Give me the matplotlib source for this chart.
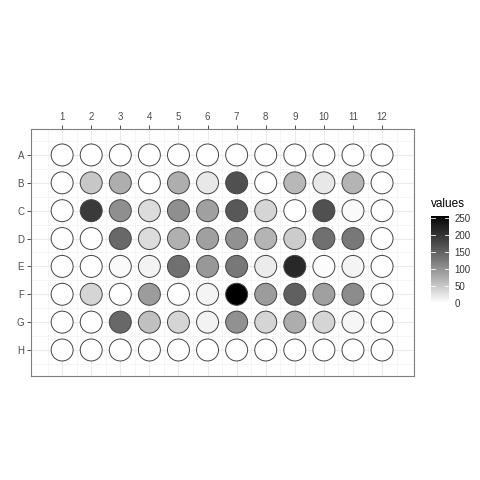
import matplotlib
matplotlib.use("Agg")
import matplotlib.pyplot as plt
import numpy as np
from matplotlib.colors import ListedColormap, Normalize
from matplotlib.colorbar import ColorbarBase

plt.rcParams['font.family'] = ['Liberation Sans', 'DejaVu Sans']

# plate layout
rows = ["A", "B", "C", "D", "E", "F", "G", "H"]
cols = list(range(1, 13))

# well values, one list per row
row_A = [0, 0, 0, 0, 0, 0, 0, 0, 0, 0, 0, 0]
row_B = [0, 50, 74, 0, 74, 20, 168, 0, 64, 20, 68, 0]
row_C = [0, 193, 104, 31, 104, 87, 160, 38, 0, 168, 4, 0]
row_D = [0, 0, 143, 31, 72, 87, 102, 68, 46, 135, 126, 0]
row_E = [0, 0, 4, 11, 135, 95, 126, 17, 214, 3, 10, 0]
row_F = [0, 38, 0, 91, 0, 10, 255, 91, 151, 87, 106, 0]
row_G = [0, 0, 143, 57, 38, 11, 102, 38, 75, 38, 8, 0]
row_H = [0, 0, 0, 0, 0, 0, 0, 0, 0, 0, 0, 0]
values = [row_A, row_B, row_C, row_D, row_E, row_F, row_G, row_H]

cbar_ticks = [0, 50, 100, 150, 200, 250]


# white -> black gradient interpolated in Lab lightness, like ggplot
def lab_gray(t):
    L = 100 * (1 - t)
    fy = (L + 16) / 116
    Y = np.where(fy ** 3 > 0.008856, fy ** 3, (L / 903.3))
    g = np.where(Y <= 0.0031308, 12.92 * Y, 1.055 * Y ** (1 / 2.4) - 0.055)
    return np.clip(g, 0, 1)


t = np.linspace(0, 1, 256)
g = lab_gray(t)
cmap = ListedColormap(np.column_stack([g, g, g]))

vals = np.array(values, dtype=float)
norm = Normalize(vmin=vals.min(), vmax=vals.max())

fig = plt.figure(figsize=(4.8, 4.8), dpi=100)
ax = fig.add_axes([0.0646, 0.2167, 0.798, 0.5146])

xx, yy = np.meshgrid(np.arange(1, 13), np.arange(1, 9))
ax.scatter(xx.ravel(), yy.ravel(), c=vals.ravel(), cmap=cmap, norm=norm,
           s=250, edgecolors="#444444", linewidths=0.7, zorder=3)

ax.set_xlim(-0.07, 13.1)
ax.set_ylim(8.933, 0.067)

ax.set_xticks(cols)
ax.set_xticklabels([str(c) for c in cols])
ax.set_yticks(range(1, 9))
ax.set_yticklabels(rows)
ax.set_xticks(np.arange(0.5, 13.5, 1), minor=True)
ax.set_yticks(np.arange(0.5, 9, 1), minor=True)
ax.xaxis.tick_top()
ax.tick_params(axis="both", which="major", labelsize=7, labelcolor="#4d4d4d",
               color="#333333", length=3, width=0.6, pad=2)
ax.tick_params(axis="both", which="minor", length=0)
ax.grid(True, which="major", color="#ebebeb", linewidth=0.8, zorder=0)
ax.grid(True, which="minor", color="#f2f2f2", linewidth=0.5, zorder=0)
ax.set_axisbelow(True)
for sp in ax.spines.values():
    sp.set_color("#7f7f7f")
    sp.set_linewidth(0.8)

# colour bar legend
cax = fig.add_axes([0.898, 0.3688, 0.0375, 0.181])
cb = ColorbarBase(cax, cmap=cmap, norm=norm, ticks=cbar_ticks)
cb.outline.set_visible(False)
cax.tick_params(labelsize=7, labelcolor="#333333", length=0, pad=4)
tr = cax.get_yaxis_transform()
for tk in cbar_ticks:
    cax.plot([0, 0.2], [tk, tk], color="white", linewidth=0.6, transform=tr)
    cax.plot([0.8, 1.0], [tk, tk], color="white", linewidth=0.6, transform=tr)
fig.text(0.898, 0.562, "values", fontsize=8.5, color="black", ha="left", va="bottom")

fig.savefig("out.png", dpi=100)
